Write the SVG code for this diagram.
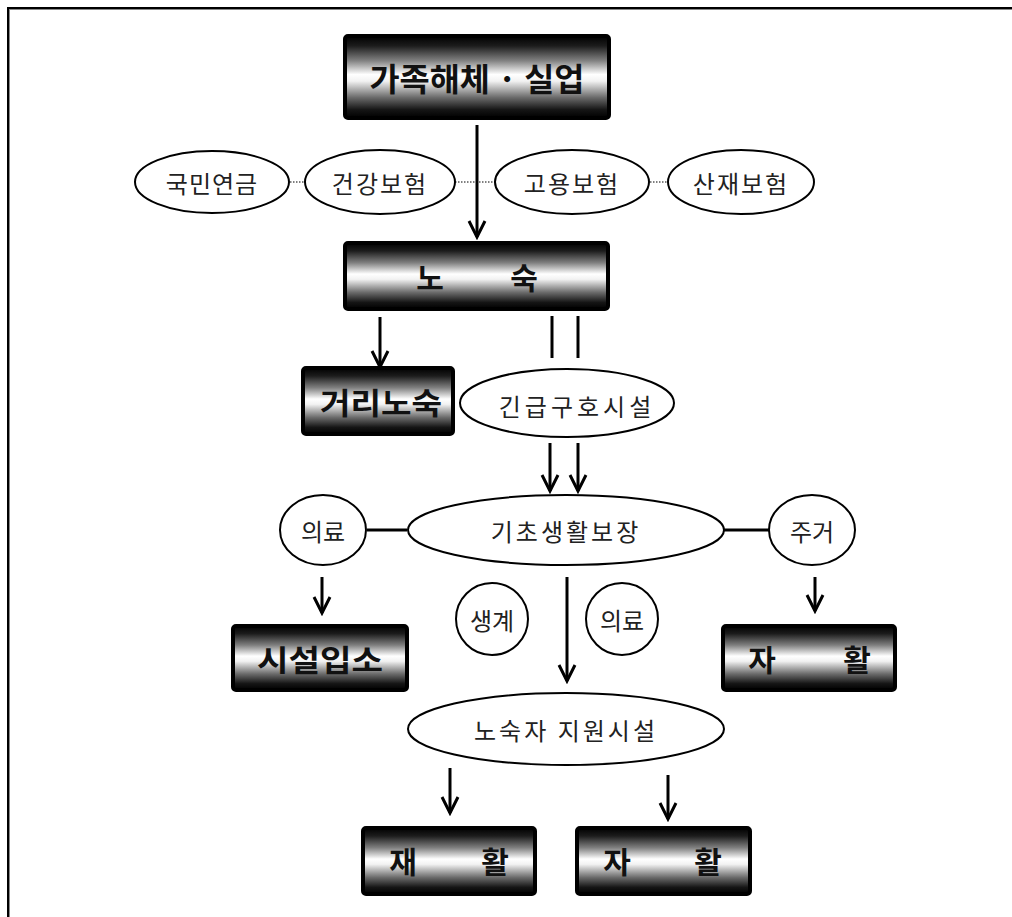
<svg xmlns="http://www.w3.org/2000/svg" width="1012" height="917" viewBox="0 0 1012 917">
<defs>
<linearGradient id="metal" x1="0" y1="0" x2="0" y2="1">
<stop offset="0" stop-color="#000"/>
<stop offset="0.12" stop-color="#1c1c1c"/>
<stop offset="0.3" stop-color="#808080"/>
<stop offset="0.47" stop-color="#ffffff"/>
<stop offset="0.55" stop-color="#f2f2f2"/>
<stop offset="0.75" stop-color="#6a6a6a"/>
<stop offset="0.9" stop-color="#151515"/>
<stop offset="1" stop-color="#000"/>
</linearGradient>
<marker id="arr" markerUnits="userSpaceOnUse" markerWidth="24" markerHeight="24" refX="21" refY="12" orient="auto" viewBox="0 0 24 24">
<path d="M5,4 L21,12 L5,20" fill="none" stroke="#000" stroke-width="3"/>
</marker>
<style>
.box{fill:url(#metal);stroke:#000;stroke-width:4}
.bt{font-family:"Noto Sans CJK KR","Noto Sans",sans-serif;font-weight:bold;fill:#111;text-anchor:middle;dominant-baseline:central}
.ell{fill:#fff;stroke:#000;stroke-width:2}
.et{font-family:"Noto Sans CJK KR","Noto Sans",sans-serif;font-size:24px;fill:#222;text-anchor:middle;dominant-baseline:central}
.arrow{stroke:#000;stroke-width:3;fill:none;marker-end:url(#arr)}
.line{stroke:#000;stroke-width:3;fill:none}
.dot{stroke:#000;stroke-width:1;stroke-dasharray:1.5,1.5;fill:none}
</style>
</defs>
<rect width="1012" height="917" fill="#fff"/>
<g id="frame">
<line x1="8" y1="8" x2="1012" y2="8" stroke="#000" stroke-width="2"/>
<line x1="8" y1="9.5" x2="1012" y2="9.5" stroke="#888" stroke-width="1"/>
<line x1="8" y1="7" x2="8" y2="917" stroke="#000" stroke-width="2"/>
<line x1="9.5" y1="9" x2="9.5" y2="917" stroke="#888" stroke-width="1"/>
</g>
<g id="connectors">
<line class="arrow" x1="477" y1="125" x2="477" y2="237"/>
<line class="dot" x1="290" y1="182" x2="305" y2="182"/>
<line class="dot" x1="455" y1="182" x2="495" y2="182"/>
<line class="dot" x1="650" y1="182" x2="668" y2="182"/>
<line class="arrow" x1="380" y1="317" x2="380" y2="367"/>
<line class="line" x1="552" y1="316" x2="552" y2="358"/>
<line class="line" x1="578" y1="316" x2="578" y2="358"/>
<line class="arrow" x1="550" y1="443" x2="550" y2="491"/>
<line class="arrow" x1="578" y1="443" x2="578" y2="491"/>
<line class="line" x1="367" y1="530" x2="407" y2="530"/>
<line class="line" x1="723" y1="530" x2="769" y2="530"/>
<line class="arrow" x1="322" y1="577" x2="322" y2="613"/>
<line class="arrow" x1="815" y1="577" x2="815" y2="611"/>
<line class="arrow" x1="567" y1="577" x2="567" y2="681"/>
<line class="arrow" x1="450" y1="768" x2="450" y2="813"/>
<line class="arrow" x1="668" y1="775" x2="668" y2="819"/>
</g>
<g id="n-gajok">
<rect class="box" x="345" y="36" width="264" height="82" rx="3"/>
<text class="bt" x="477" y="77" font-size="32" textLength="215" lengthAdjust="spacingAndGlyphs">가족해체 · 실업</text>
</g>
<g id="n-gukmin"><ellipse class="ell" cx="212" cy="182" rx="77" ry="31"/><text class="et" x="212" y="182" letter-spacing="1">국민연금</text></g>
<g id="n-geongang"><ellipse class="ell" cx="380" cy="182" rx="75" ry="32"/><text class="et" x="380" y="182" letter-spacing="2">건강보험</text></g>
<g id="n-goyong"><ellipse class="ell" cx="572" cy="182" rx="77" ry="32"/><text class="et" x="572" y="182" letter-spacing="2">고용보험</text></g>
<g id="n-sanjae"><ellipse class="ell" cx="741" cy="182" rx="73" ry="32"/><text class="et" x="741" y="182" letter-spacing="2">산재보험</text></g>
<g id="n-nosuk">
<rect class="box" x="345" y="243" width="263" height="66" rx="3"/>
<text class="bt" y="276" font-size="30"><tspan x="430">노</tspan><tspan x="524">숙</tspan></text>
</g>
<g id="n-geori">
<rect class="box" x="303" y="368" width="150" height="66" rx="3"/>
<text class="bt" x="381" y="401" font-size="30" textLength="122" lengthAdjust="spacingAndGlyphs">거리노숙</text>
</g>
<g id="n-gingeup"><ellipse class="ell" cx="567" cy="403" rx="107" ry="34"/><text class="et" x="577" y="405" letter-spacing="4">긴급구호시설</text></g>
<g id="n-gicho"><ellipse class="ell" cx="566" cy="530" rx="158" ry="35"/><text class="et" x="566" y="530" letter-spacing="3">기초생활보장</text></g>
<g id="n-uiryo1"><ellipse class="ell" cx="323" cy="530" rx="43" ry="35"/><text class="et" x="323" y="530">의료</text></g>
<g id="n-jugeo"><ellipse class="ell" cx="812" cy="530" rx="43" ry="35"/><text class="et" x="812" y="530">주거</text></g>
<g id="n-siseol">
<rect class="box" x="233" y="626" width="174" height="64" rx="3"/>
<text class="bt" x="320" y="658" font-size="30" textLength="126" lengthAdjust="spacingAndGlyphs">시설입소</text>
</g>
<g id="n-saenggye"><ellipse class="ell" cx="492" cy="619" rx="36" ry="36"/><text class="et" x="492" y="619">생계</text></g>
<g id="n-uiryo2"><ellipse class="ell" cx="622" cy="619" rx="36" ry="36"/><text class="et" x="622" y="619">의료</text></g>
<g id="n-jahwal1">
<rect class="box" x="723" y="626" width="172" height="64" rx="3"/>
<text class="bt" y="658" font-size="30"><tspan x="762">자</tspan><tspan x="857">활</tspan></text>
</g>
<g id="n-jiwon"><ellipse class="ell" cx="566" cy="729" rx="158" ry="36"/><text class="et" x="566" y="729" letter-spacing="3">노숙자 지원시설</text></g>
<g id="n-jaehwal">
<rect class="box" x="363" y="828" width="172" height="66" rx="3"/>
<text class="bt" y="860" font-size="30"><tspan x="403">재</tspan><tspan x="495">활</tspan></text>
</g>
<g id="n-jahwal2">
<rect class="box" x="577" y="828" width="173" height="66" rx="3"/>
<text class="bt" y="860" font-size="30"><tspan x="617">자</tspan><tspan x="708">활</tspan></text>
</g>
</svg>
